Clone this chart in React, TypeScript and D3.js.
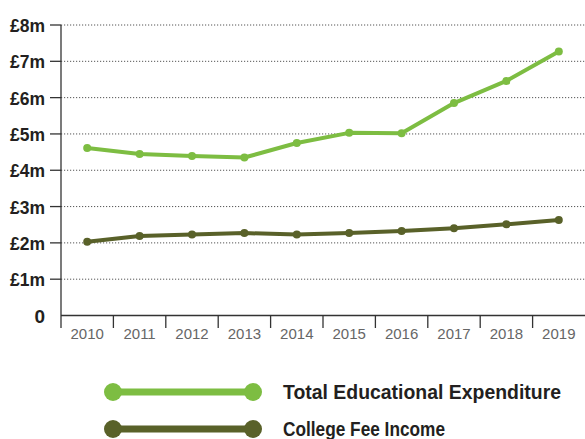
import React from "react";
import * as d3 from "d3";

const years = ["2010","2011","2012","2013","2014","2015","2016","2017","2018","2019"];
const totalExpenditure = [4.61, 4.45, 4.39, 4.35, 4.75, 5.03, 5.02, 5.85, 6.46, 7.27];
const collegeFeeIncome = [2.03, 2.19, 2.23, 2.27, 2.23, 2.27, 2.33, 2.40, 2.51, 2.63];
const yTicks = [0, 1, 2, 3, 4, 5, 6, 7, 8];
const seriesNames = ["Total Educational Expenditure", "College Fee Income"];
const seriesColors = ["#7dbd42", "#596129"];
const legendWidths = [278, 162];

export default function App() {
  const W = 585, H = 439;
  const left = 61, right = 585, top = 25, bottom = 315.5;
  const x = d3.scaleBand().domain(years).range([left, right]);
  const y = d3.scaleLinear().domain([0, 8]).range([bottom, top]);
  const line = d3.line<number>()
    .x((_, i) => (x(years[i]) as number) + x.bandwidth() / 2)
    .y((d) => y(d))
    .curve(d3.curveLinear);
  const series = [totalExpenditure, collegeFeeIncome];
  const labelFont = "'Liberation Sans', Arial, sans-serif";
  return (
    <svg width={W} height={H} style={{ position: "absolute", left: 0, top: 0 }}>
      <rect width={W} height={H} fill="#fff" />
      {yTicks.filter((t) => t > 0).map((t) => (
        <g key={t}>
          <line x1={left} x2={right} y1={y(t)} y2={y(t)} stroke="#555" strokeWidth={1} strokeDasharray="1.2 1.8" />
          <line x1={50} x2={left} y1={y(t)} y2={y(t)} stroke="#333" strokeWidth={1.3} />
        </g>
      ))}
      {yTicks.map((t) => (
        t === 0 ? (
          <text key={"l" + t} x={45} y={y(t) + 7} textAnchor="end" fontFamily={labelFont} fontWeight="bold" fontSize={19} fill="#231f20">0</text>
        ) : (
          <text key={"l" + t} x={10} y={y(t) + 7} fontFamily={labelFont} fontWeight="bold" fontSize={19} fill="#231f20" textLength={35} lengthAdjust="spacingAndGlyphs">
            {`£${t}m`}
          </text>
        )
      ))}
      <line x1={left} x2={left} y1={top} y2={328} stroke="#333" strokeWidth={1.3} />
      <line x1={left} x2={right} y1={bottom} y2={bottom} stroke="#333" strokeWidth={1.3} />
      {years.map((yr, i) => (
        <g key={yr}>
          {i > 0 && <line x1={x(yr)} x2={x(yr)} y1={bottom} y2={328} stroke="#333" strokeWidth={1.3} />}
          <text x={(x(yr) as number) + x.bandwidth() / 2} y={339} textAnchor="middle" fontFamily="'Liberation Sans', Arial, sans-serif" fontSize={15} fill="#666">
            {yr}
          </text>
        </g>
      ))}
      {series.map((s, si) => (
        <g key={si}>
          <path d={line(s) || ""} fill="none" stroke={seriesColors[si]} strokeWidth={4} strokeLinejoin="round" />
          {s.map((v, i) => (
            <circle key={i} cx={(x(years[i]) as number) + x.bandwidth() / 2} cy={y(v)} r={4} fill={seriesColors[si]} />
          ))}
        </g>
      ))}
      {seriesNames.map((n, i) => {
        const ly = 392 + i * 37;
        return (
          <g key={n}>
            <line x1={113} x2={253} y1={ly} y2={ly} stroke={seriesColors[i]} strokeWidth={7} />
            <circle cx={113} cy={ly} r={9} fill={seriesColors[i]} />
            <circle cx={253} cy={ly} r={9} fill={seriesColors[i]} />
            <text x={283} y={ly + 7} fontFamily={labelFont} fontWeight="bold" fontSize={20} fill="#231f20" textLength={legendWidths[i]} lengthAdjust="spacingAndGlyphs">{n}</text>
          </g>
        );
      })}
    </svg>
  );
}
